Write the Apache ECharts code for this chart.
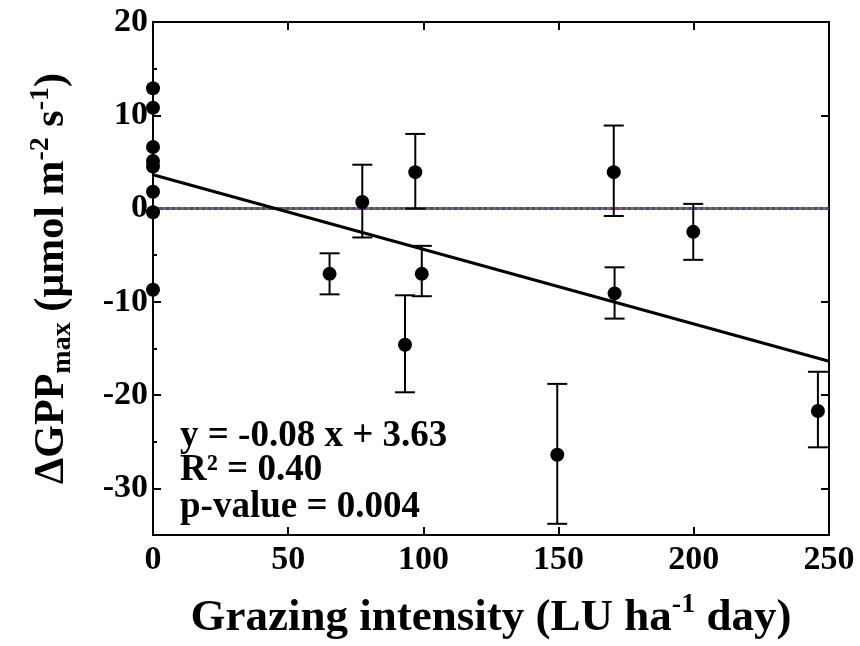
<!DOCTYPE html>
<html>
<head>
<meta charset="utf-8">
<script src="https://cdn.jsdelivr.net/npm/echarts@6/dist/echarts.min.js"></script>
<style>
  html, body { margin: 0; padding: 0; background: #fff; }
  #chart { width: 860px; height: 646px; }
</style>
</head>
<body>
<div id="chart"></div>
<script>
// grazing intensity (x) and delta GPPmax (y)
const grazeX = [0, 0, 0, 0, 0, 0, 0, 0, 65.3, 77.4, 93.2, 97, 99.4, 149.5, 170.4, 170.7, 199.8, 245.9];
const deltaGpp = [12.9, 10.8, 6.6, 5.1, 4.5, 1.8, -0.4, -8.7, -7.0, 0.7, -14.6, 3.9, -7.0, -26.4, 3.9, -9.1, -2.5, -21.7];
// error bar ends (null = no bar)
const errHigh = [null, null, null, null, null, null, null, null, -4.8, 4.7, -9.3, 8.0, -4.0, -18.8, 8.9, -6.3, 0.5, -17.5];
const errLow = [null, null, null, null, null, null, null, null, -9.2, -3.1, -19.7, 0.0, -9.4, -33.8, -0.8, -11.8, -5.5, -25.6];

const fitSlope = -0.08;
const fitIntercept = 3.63;
const xTicks = [0, 50, 100, 150, 200, 250];
const yTicks = [-30, -20, -10, 0, 10, 20];
const yMinorTicks = [-35, -25, -15, -5, 5, 15];

const serif = '"Liberation Serif", "Times New Roman", serif';

const chart = echarts.init(document.getElementById("chart"));

const points = grazeX.map((x, i) => [x, deltaGpp[i]]);
const bars = [];
grazeX.forEach((x, i) => {
  if (errLow[i] !== null) bars.push([x, errLow[i], errHigh[i]]);
});
const fitLine = [
  [xTicks[0], fitIntercept + fitSlope * xTicks[0]],
  [xTicks[xTicks.length - 1], fitIntercept + fitSlope * xTicks[xTicks.length - 1]],
];
const zeroLine = [[0, 0], [250, 0]];

const dotColors = ["#f0202a", "#18b02a", "#2a3ef0"];
const zeroSeries = dotColors.map((c, k) => ({
  type: "line",
  data: zeroLine,
  symbol: "none",
  silent: true,
  z: 2,
  lineStyle: { color: c, width: 3, type: [2, 4], dashOffset: k * 2 },
}));

const tickLabel = { fontFamily: serif, fontWeight: "bold", fontSize: 34, color: "#000" };
const tickStyle = { color: "#000", width: 2 };

chart.setOption({
  animation: false,
  grid: {
    left: 153,
    right: 31,
    top: 22,
    bottom: 108,
    show: true,
    borderColor: "#000",
    borderWidth: 2,
  },
  xAxis: [
    {
      type: "value",
      min: 0,
      max: 250,
      interval: 50,
      axisLine: { show: false, onZero: false },
      axisTick: { inside: true, length: 8, lineStyle: tickStyle },
      splitLine: { show: false },
      axisLabel: { ...tickLabel, margin: 8 },
      name: "{b|Grazing intensity (LU ha}{sup|-1}{b| day)}",
      nameLocation: "middle",
      nameGap: 56,
      nameTextStyle: {
        rich: {
          b: { fontFamily: serif, fontWeight: "bold", fontSize: 45, color: "#000", lineHeight: 50, verticalAlign: "bottom" },
          sup: { fontFamily: serif, fontWeight: "bold", fontSize: 28, color: "#000", lineHeight: 50, verticalAlign: "top" },
        },
      },
    },
    {
      type: "value",
      position: "top",
      min: 0,
      max: 250,
      interval: 50,
      axisLine: { show: false, onZero: false },
      axisTick: { inside: true, length: 8, lineStyle: tickStyle },
      splitLine: { show: false },
      axisLabel: { show: false },
    },
  ],
  yAxis: [
    {
      type: "value",
      min: -35,
      max: 20,
      axisLine: { show: false, onZero: false },
      axisTick: { inside: true, length: 8, customValues: yTicks, lineStyle: tickStyle },
      splitLine: { show: false },
      axisLabel: { ...tickLabel, margin: 5, customValues: yTicks },
      name: "{b|ΔGPP}{sub|max}{b| (µmol m}{sup|-2}{b| s}{sup|-1}{b|)}",
      nameLocation: "middle",
      nameRotate: 90,
      nameGap: 76,
      nameTextStyle: {
        rich: {
          b: { fontFamily: serif, fontWeight: "bold", fontSize: 42, color: "#000", lineHeight: 50, verticalAlign: "middle" },
          sub: { fontFamily: serif, fontWeight: "bold", fontSize: 28, color: "#000", lineHeight: 50, verticalAlign: "bottom" },
          sup: { fontFamily: serif, fontWeight: "bold", fontSize: 28, color: "#000", lineHeight: 50, verticalAlign: "top" },
        },
      },
    },
    {
      type: "value",
      min: -35,
      max: 20,
      position: "left",
      axisLine: { show: false, onZero: false },
      axisTick: { inside: true, length: 4, customValues: yMinorTicks, lineStyle: tickStyle },
      splitLine: { show: false },
      axisLabel: { show: false },
    },
    {
      type: "value",
      min: -35,
      max: 20,
      position: "right",
      axisLine: { show: false, onZero: false },
      axisTick: { inside: true, length: 8, customValues: yTicks, lineStyle: tickStyle },
      splitLine: { show: false },
      axisLabel: { show: false },
    },
  ],
  series: [
    ...zeroSeries,
    {
      type: "line",
      data: fitLine,
      symbol: "none",
      silent: true,
      z: 3,
      lineStyle: { color: "#000", width: 3 },
    },
    {
      type: "custom",
      data: bars,
      encode: { x: 0, y: [1, 2] },
      z: 4,
      renderItem: function (params, api) {
        const x = api.value(0);
        const lo = api.coord([x, api.value(1)]);
        const hi = api.coord([x, api.value(2)]);
        const w = 10;
        const st = { stroke: "#000", lineWidth: 2 };
        return {
          type: "group",
          children: [
            { type: "line", shape: { x1: hi[0], y1: hi[1], x2: lo[0], y2: lo[1] }, style: st },
            { type: "line", shape: { x1: hi[0] - w, y1: hi[1], x2: hi[0] + w, y2: hi[1] }, style: st },
            { type: "line", shape: { x1: lo[0] - w, y1: lo[1], x2: lo[0] + w, y2: lo[1] }, style: st },
          ],
        };
      },
    },
    {
      type: "scatter",
      data: points,
      symbol: "circle",
      symbolSize: 14,
      z: 5,
      itemStyle: { color: "#000", opacity: 1 },
    },
  ],
  graphic: [
    { type: "text", left: 180, top: 418, style: { text: "y = -0.08 x + 3.63", font: "bold 37px " + serif, fill: "#000" } },
    { type: "text", left: 180, top: 452, style: { text: "R² = 0.40", font: "bold 37px " + serif, fill: "#000" } },
    { type: "text", left: 180, top: 489, style: { text: "p-value = 0.004", font: "bold 37px " + serif, fill: "#000" } },
  ],
});
</script>
</body>
</html>
